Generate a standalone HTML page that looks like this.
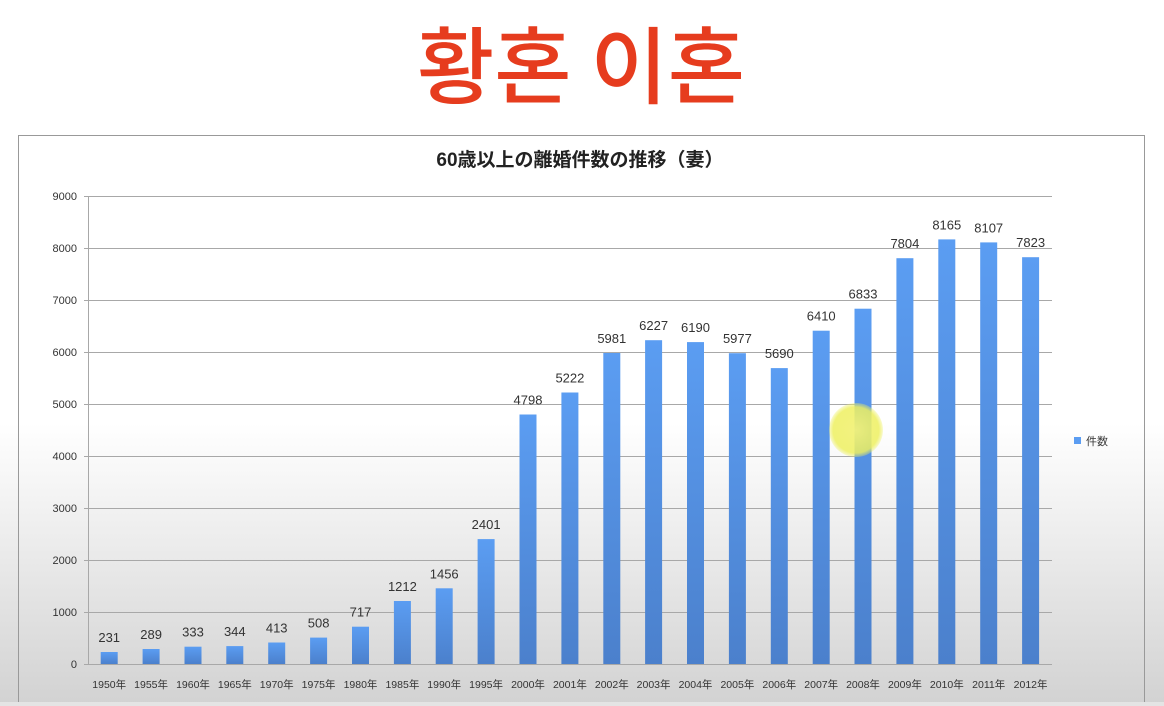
<!DOCTYPE html>
<html><head><meta charset="utf-8"><style>
html,body{margin:0;padding:0;width:1164px;height:706px;overflow:hidden;background:#fff}
svg{display:block}
text{font-family:"Liberation Sans","Noto Sans CJK JP",sans-serif}
</style></head><body>
<svg width="1164" height="706" viewBox="0 0 1164 706" xmlns="http://www.w3.org/2000/svg">
<defs>
<linearGradient id="bg" x1="0" y1="0" x2="0" y2="1">
<stop offset="0" stop-color="#ffffff"/><stop offset="0.6" stop-color="#ffffff"/><stop offset="1" stop-color="#d2d2d2"/>
</linearGradient>
<linearGradient id="bar" x1="0" y1="0" x2="0" y2="1">
<stop offset="0" stop-color="#5b9df2"/><stop offset="1" stop-color="#4b80cc"/>
</linearGradient>
<radialGradient id="ys"><stop offset="0" stop-color="#f2f27a" stop-opacity="0.95"/><stop offset="0.85" stop-color="#eef060" stop-opacity="0.85"/><stop offset="1" stop-color="#eef060" stop-opacity="0.3"/></radialGradient>
</defs>
<rect width="1164" height="706" fill="url(#bg)"/>
<rect x="0" y="702" width="1164" height="4" fill="#e4e4e4"/>
<text x="581" y="97" text-anchor="middle" font-size="84" font-weight="500" fill="#e63c1e" style="font-family:'Noto Sans CJK KR','NanumGothic',sans-serif">황혼 이혼</text>
<path d="M18.5 702 V135.5 H1144.5 V702" fill="none" stroke="#999" stroke-width="1"/>
<text x="580" y="166" text-anchor="middle" font-size="19" font-weight="bold" fill="#222">60歳以上の離婚件数の推移（妻）</text>
<g stroke="#a8a8a8" stroke-width="1">
<line x1="84" x2="1052" y1="196.5" y2="196.5"/><line x1="84" x2="1052" y1="248.5" y2="248.5"/>
<line x1="84" x2="1052" y1="300.5" y2="300.5"/><line x1="84" x2="1052" y1="352.5" y2="352.5"/>
<line x1="84" x2="1052" y1="404.5" y2="404.5"/><line x1="84" x2="1052" y1="456.5" y2="456.5"/>
<line x1="84" x2="1052" y1="508.5" y2="508.5"/><line x1="84" x2="1052" y1="560.5" y2="560.5"/>
<line x1="84" x2="1052" y1="612.5" y2="612.5"/>
<line x1="88.5" x2="88.5" y1="196" y2="664"/>
<line x1="84" x2="1052" y1="664.5" y2="664.5"/>
</g>
<g font-size="11" fill="#333" text-anchor="end">
<text x="77" y="200">9000</text><text x="77" y="252">8000</text><text x="77" y="304">7000</text>
<text x="77" y="356">6000</text><text x="77" y="408">5000</text><text x="77" y="460">4000</text>
<text x="77" y="512">3000</text><text x="77" y="564">2000</text><text x="77" y="616">1000</text>
<text x="77" y="668">0</text>
</g>
<g fill="url(#bar)">
<rect x="100.7" y="652.0" width="17" height="12.0"/>
<rect x="142.6" y="649.0" width="17" height="15.0"/>
<rect x="184.5" y="646.7" width="17" height="17.3"/>
<rect x="226.3" y="646.1" width="17" height="17.9"/>
<rect x="268.2" y="642.5" width="17" height="21.5"/>
<rect x="310.1" y="637.6" width="17" height="26.4"/>
<rect x="352.0" y="626.7" width="17" height="37.3"/>
<rect x="393.9" y="601.0" width="17" height="63.0"/>
<rect x="435.7" y="588.3" width="17" height="75.7"/>
<rect x="477.6" y="539.1" width="17" height="124.9"/>
<rect x="519.5" y="414.5" width="17" height="249.5"/>
<rect x="561.4" y="392.5" width="17" height="271.5"/>
<rect x="603.3" y="353.0" width="17" height="311.0"/>
<rect x="645.1" y="340.2" width="17" height="323.8"/>
<rect x="687.0" y="342.1" width="17" height="321.9"/>
<rect x="728.9" y="353.2" width="17" height="310.8"/>
<rect x="770.8" y="368.1" width="17" height="295.9"/>
<rect x="812.7" y="330.7" width="17" height="333.3"/>
<rect x="854.5" y="308.7" width="17" height="355.3"/>
<rect x="896.4" y="258.2" width="17" height="405.8"/>
<rect x="938.3" y="239.4" width="17" height="424.6"/>
<rect x="980.2" y="242.4" width="17" height="421.6"/>
<rect x="1022.1" y="257.2" width="17" height="406.8"/>
</g>
<g font-size="13" fill="#333" text-anchor="middle">
<text x="109.2" y="642">231</text><text x="151.1" y="639">289</text><text x="193.0" y="636.7">333</text>
<text x="234.8" y="636.1">344</text><text x="276.7" y="632.5">413</text><text x="318.6" y="627.6">508</text>
<text x="360.5" y="616.7">717</text><text x="402.4" y="591">1212</text><text x="444.2" y="578.3">1456</text>
<text x="486.1" y="529.1">2401</text><text x="528.0" y="404.5">4798</text><text x="569.9" y="382.5">5222</text>
<text x="611.8" y="343">5981</text><text x="653.6" y="330.2">6227</text><text x="695.5" y="332.1">6190</text>
<text x="737.4" y="343.2">5977</text><text x="779.3" y="358.1">5690</text><text x="821.2" y="320.7">6410</text>
<text x="863.0" y="298.7">6833</text><text x="904.9" y="248.2">7804</text><text x="946.8" y="229.4">8165</text>
<text x="988.7" y="232.4">8107</text><text x="1030.6" y="247.2">7823</text>
</g>
<g font-size="10.5" fill="#333" text-anchor="middle">
<text x="109.2" y="688">1950年</text><text x="151.1" y="688">1955年</text><text x="193.0" y="688">1960年</text>
<text x="234.8" y="688">1965年</text><text x="276.7" y="688">1970年</text><text x="318.6" y="688">1975年</text>
<text x="360.5" y="688">1980年</text><text x="402.4" y="688">1985年</text><text x="444.2" y="688">1990年</text>
<text x="486.1" y="688">1995年</text><text x="528.0" y="688">2000年</text><text x="569.9" y="688">2001年</text>
<text x="611.8" y="688">2002年</text><text x="653.6" y="688">2003年</text><text x="695.5" y="688">2004年</text>
<text x="737.4" y="688">2005年</text><text x="779.3" y="688">2006年</text><text x="821.2" y="688">2007年</text>
<text x="863.0" y="688">2008年</text><text x="904.9" y="688">2009年</text><text x="946.8" y="688">2010年</text>
<text x="988.7" y="688">2011年</text><text x="1030.6" y="688">2012年</text>
</g>
<rect x="1074" y="437" width="7" height="7" fill="#5b9df2"/>
<text x="1086" y="445" font-size="11" fill="#333">件数</text>
<circle cx="856" cy="430" r="27" fill="url(#ys)"/>
</svg>
</body></html>
